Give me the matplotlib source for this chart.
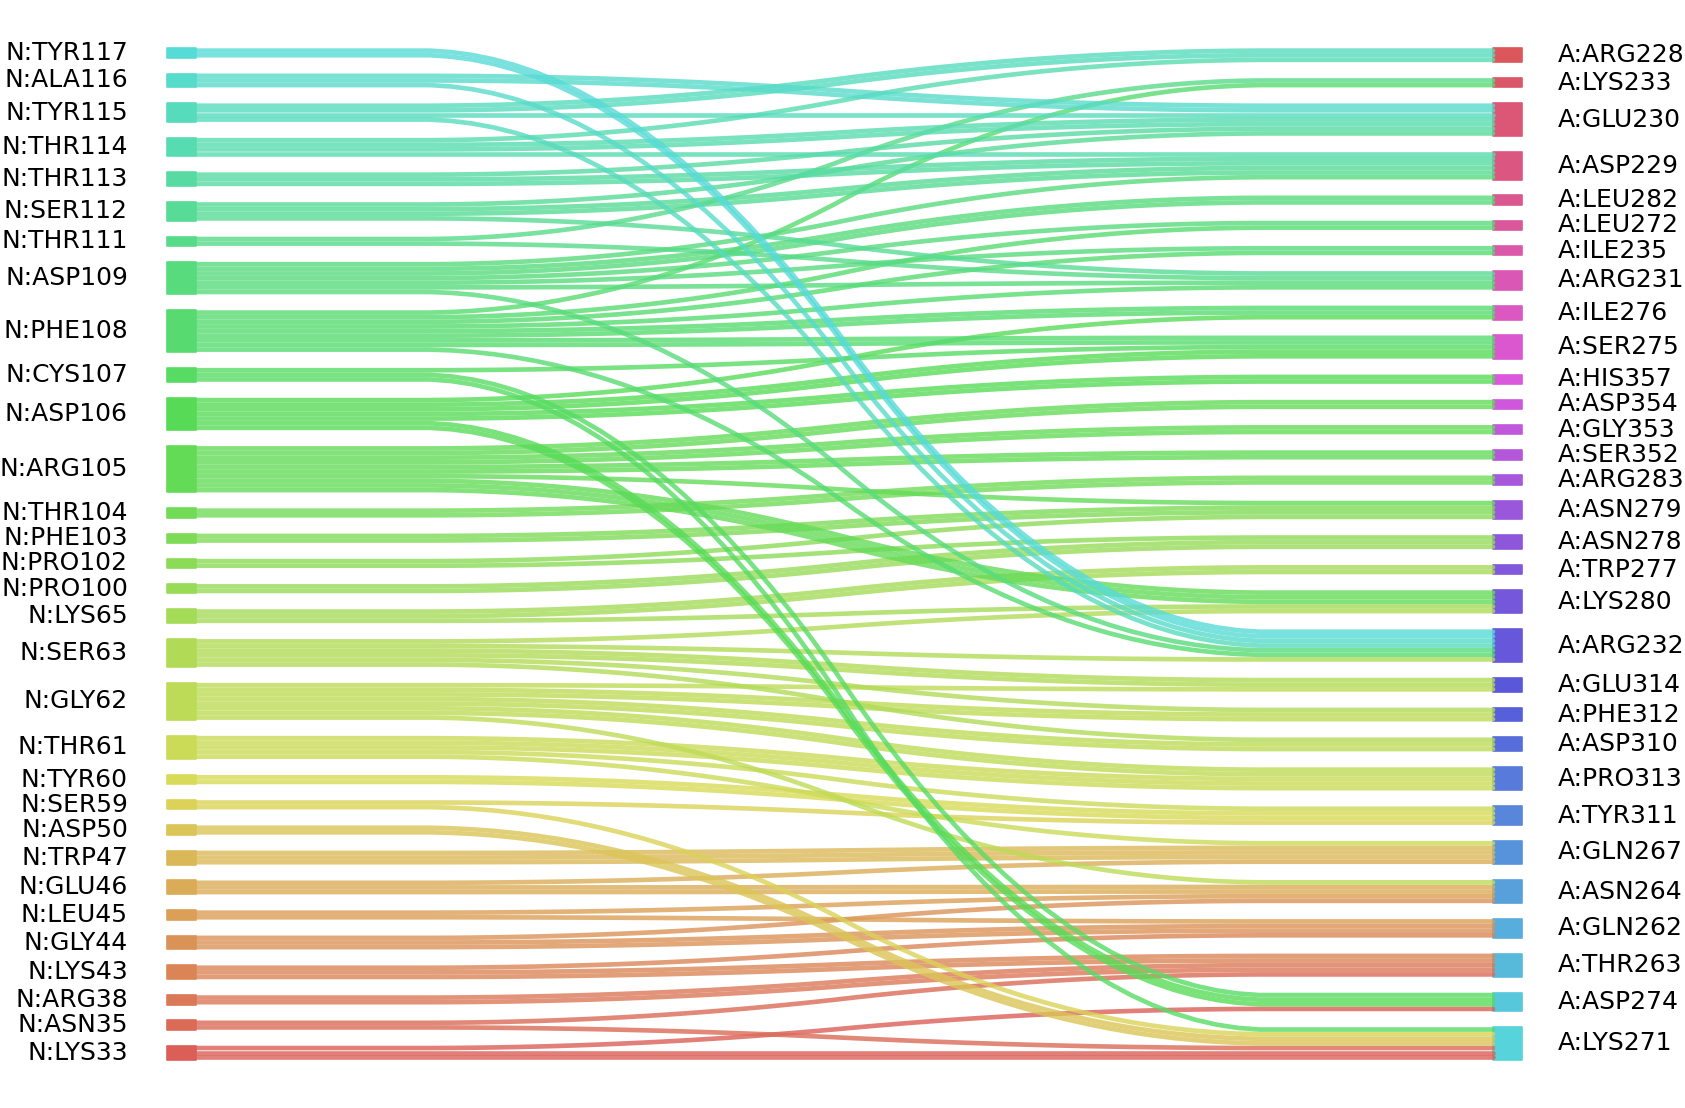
import colorsys
import numpy as np
import matplotlib
matplotlib.use("Agg")
import matplotlib.pyplot as plt

# node labels, listed bottom to top as they are stacked
left_labels = [
    "N:LYS33", "N:ASN35", "N:ARG38", "N:LYS43", "N:GLY44", "N:LEU45", "N:GLU46",
    "N:TRP47", "N:ASP50", "N:SER59", "N:TYR60", "N:THR61", "N:GLY62", "N:SER63",
    "N:LYS65", "N:PRO100", "N:PRO102", "N:PHE103", "N:THR104", "N:ARG105",
    "N:ASP106", "N:CYS107", "N:PHE108", "N:ASP109", "N:THR111", "N:SER112",
    "N:THR113", "N:THR114", "N:TYR115", "N:ALA116", "N:TYR117",
]
right_labels = [
    "A:LYS271", "A:ASP274", "A:THR263", "A:GLN262", "A:ASN264", "A:GLN267",
    "A:TYR311", "A:PRO313", "A:ASP310", "A:PHE312", "A:GLU314", "A:ARG232",
    "A:LYS280", "A:TRP277", "A:ASN278", "A:ASN279", "A:ARG283", "A:SER352",
    "A:GLY353", "A:ASP354", "A:HIS357", "A:SER275", "A:ILE276", "A:ARG231",
    "A:ILE235", "A:LEU272", "A:LEU282", "A:ASP229", "A:GLU230", "A:LYS233",
    "A:ARG228",
]

# contacts between residues: source, target, number of contacts
flow_left = [
    "N:LYS33", "N:LYS33",
    "N:ASN35", "N:ASN35",
    "N:ARG38",
    "N:LYS43", "N:LYS43",
    "N:GLY44", "N:GLY44",
    "N:LEU45", "N:LEU45",
    "N:GLU46", "N:GLU46",
    "N:TRP47",
    "N:ASP50",
    "N:SER59", "N:SER59",
    "N:TYR60",
    "N:THR61", "N:THR61", "N:THR61",
    "N:GLY62", "N:GLY62", "N:GLY62", "N:GLY62", "N:GLY62",
    "N:SER63", "N:SER63", "N:SER63", "N:SER63", "N:SER63",
    "N:LYS65", "N:LYS65",
    "N:PRO100",
    "N:PRO102", "N:PRO102",
    "N:PHE103",
    "N:THR104",
    "N:ARG105", "N:ARG105", "N:ARG105", "N:ARG105", "N:ARG105",
    "N:ASP106", "N:ASP106", "N:ASP106", "N:ASP106",
    "N:CYS107", "N:CYS107", "N:CYS107",
    "N:PHE108", "N:PHE108", "N:PHE108", "N:PHE108", "N:PHE108", "N:PHE108", "N:PHE108",
    "N:ASP109", "N:ASP109", "N:ASP109", "N:ASP109", "N:ASP109", "N:ASP109",
    "N:THR111", "N:THR111",
    "N:SER112", "N:SER112", "N:SER112",
    "N:THR113", "N:THR113",
    "N:THR114", "N:THR114", "N:THR114",
    "N:TYR115", "N:TYR115", "N:TYR115",
    "N:ALA116", "N:ALA116",
    "N:TYR117",
]
flow_right = [
    "A:LYS271", "A:ASP274",
    "A:LYS271", "A:THR263",
    "A:THR263",
    "A:THR263", "A:GLN262",
    "A:GLN262", "A:ASN264",
    "A:GLN262", "A:ASN264",
    "A:ASN264", "A:GLN267",
    "A:GLN267",
    "A:LYS271",
    "A:LYS271", "A:TYR311",
    "A:TYR311",
    "A:GLN267", "A:TYR311", "A:PRO313",
    "A:ASN264", "A:PRO313", "A:ASP310", "A:PHE312", "A:GLU314",
    "A:ASP310", "A:PHE312", "A:GLU314", "A:ARG232", "A:LYS280",
    "A:LYS280", "A:TRP277",
    "A:ASN278",
    "A:ASN278", "A:ASN279",
    "A:ASN279",
    "A:ARG283",
    "A:LYS280", "A:ASN279", "A:SER352", "A:GLY353", "A:ASP354",
    "A:ASP274", "A:HIS357", "A:SER275", "A:ILE276",
    "A:LYS271", "A:ASP274", "A:SER275",
    "A:ARG232", "A:SER275", "A:ILE276", "A:ARG231", "A:ILE235", "A:LEU272", "A:LYS233",
    "A:ARG232", "A:ARG231", "A:ILE235", "A:LEU272", "A:LEU282", "A:ASP229",
    "A:ARG231", "A:LYS233",
    "A:ARG231", "A:ASP229", "A:GLU230",
    "A:ASP229", "A:GLU230",
    "A:ASP229", "A:GLU230", "A:ARG228",
    "A:ARG232", "A:GLU230", "A:ARG228",
    "A:ARG232", "A:GLU230",
    "A:ARG232",
]
flow_count = [
    2, 1,
    1, 1,
    2,
    2, 1,
    2, 1,
    1, 1,
    2, 1,
    3,
    2,
    1, 1,
    2,
    1, 1, 3,
    1, 2, 2, 2, 1,
    1, 1, 2, 1, 1,
    1, 2,
    2,
    1, 1,
    2,
    2,
    3, 1, 2, 2, 2,
    2, 2, 2, 1,
    1, 1, 1,
    1, 2, 2, 1, 1, 1, 1,
    1, 1, 1, 1, 2, 1,
    1, 1,
    1, 2, 1,
    2, 1,
    1, 2, 1,
    1, 1, 2,
    1, 2,
    2,
]

# colours: one hls palette over all nodes (left bottom->top, then right bottom->top)
all_labels = left_labels + right_labels
hues = (np.linspace(0, 1, len(all_labels) + 1)[:-1] + 0.01) % 1
colors = {lab: colorsys.hls_to_rgb(h, 0.6, 0.65) for lab, h in zip(all_labels, hues)}

counts = {}
for l, r, w in zip(flow_left, flow_right, flow_count):
    counts[(l, r)] = counts.get((l, r), 0) + w

total = sum(flow_count)
gap = 0.03 * total


def stack(labels, side):
    out = {}
    y = 0.0
    for lab in labels:
        if side == "left":
            h = sum(w for (l, r), w in counts.items() if l == lab)
        else:
            h = sum(w for (l, r), w in counts.items() if r == lab)
        out[lab] = [y, h]
        y += h + gap
    return out


left_pos = stack(left_labels, "left")
right_pos = stack(right_labels, "right")

# figure mapped to the pixel layout of the reference
W, H = 1685, 1108
x0_px, x1_px = 196, 1493
top_px, bot_px = 48.3, 1059.6
span = total + gap * (len(left_labels) - 1)
sy = (bot_px - top_px) / span
fig = plt.figure(figsize=(W / 100, H / 100), dpi=100)
ax = fig.add_axes([0, 0, 1, 1])
ax.set_xlim(-x0_px / (x1_px - x0_px), (W - x0_px) / (x1_px - x0_px))
ax.set_ylim((bot_px - H) / sy, bot_px / sy)
ax.axis("off")

bw = 0.022
for lab in left_labels:
    b, h = left_pos[lab]
    ax.fill_between([-bw, 0], b, b + h, color=colors[lab], lw=1.2,
                    edgecolor=colors[lab], joinstyle="round", zorder=1)
    ax.text(-0.0525, b + h / 2, lab, ha="right", va="center", fontsize=18)
for lab in right_labels:
    b, h = right_pos[lab]
    ax.fill_between([1, 1 + bw], b, b + h, color=colors[lab], lw=1.2,
                    edgecolor=colors[lab], joinstyle="round", zorder=1)
    ax.text(1.05, b + h / 2, lab, ha="left", va="center", fontsize=18)


def curve(y0, y1):
    ys = np.array(50 * [y0] + 50 * [y1])
    ys = np.convolve(ys, 0.05 * np.ones(20), mode="valid")
    ys = np.convolve(ys, 0.05 * np.ones(20), mode="valid")
    return ys


lw = sy * 0.72
lbot = {lab: left_pos[lab][0] for lab in left_labels}
rbot = {lab: right_pos[lab][0] for lab in right_labels}
for l in left_labels:
    for r in right_labels:
        n = counts.get((l, r), 0)
        for k in range(n):
            ys = curve(lbot[l] + 0.5, rbot[r] + 0.5)
            xs = np.linspace(0, 1, len(ys))
            ax.plot(xs, ys, color=colors[l], lw=lw, alpha=0.8,
                    solid_capstyle="round", zorder=2)
            lbot[l] += 1
            rbot[r] += 1

fig.savefig("out.png", dpi=100)
